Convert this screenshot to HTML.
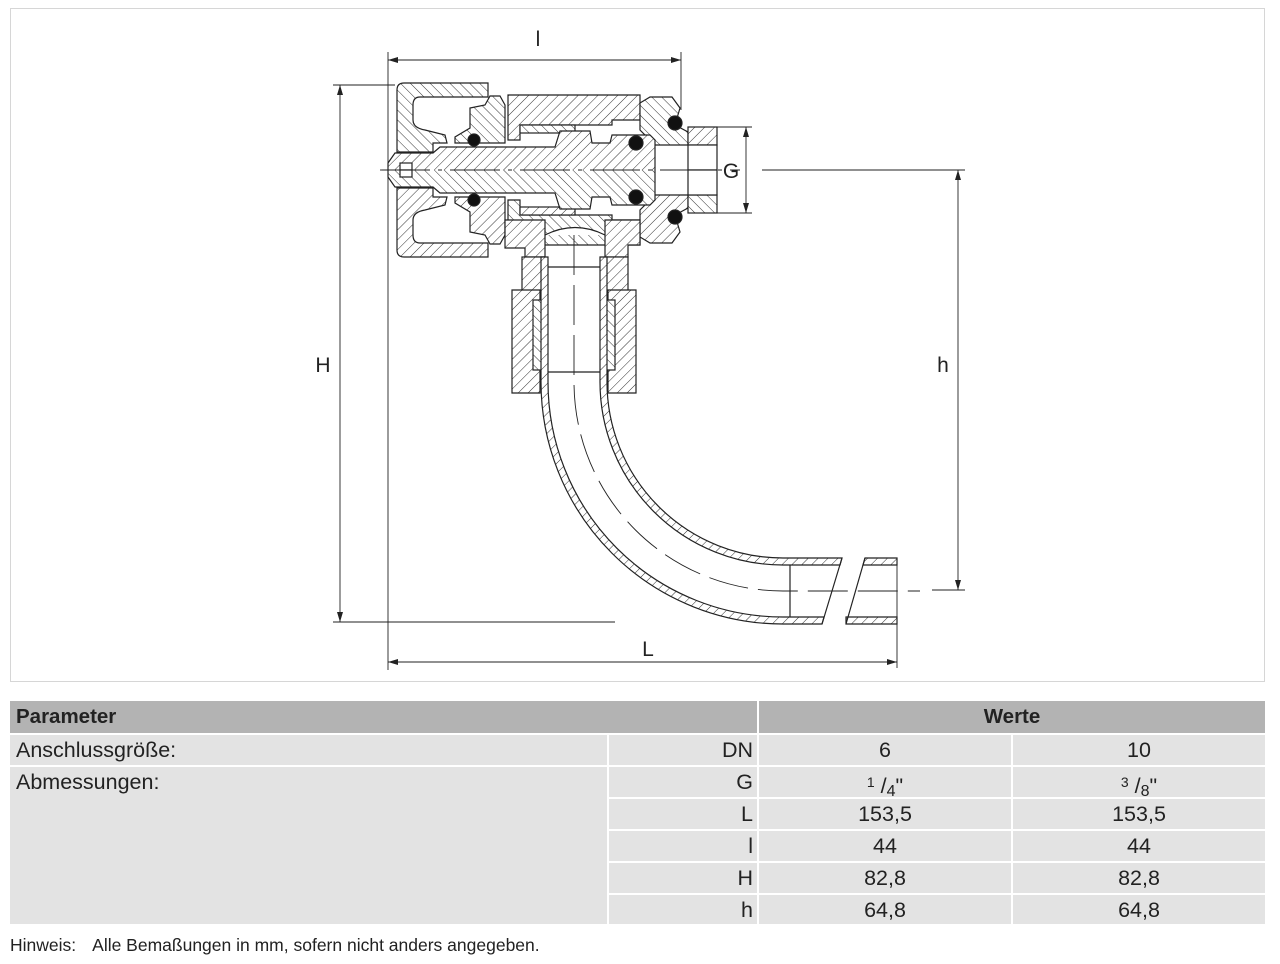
<!DOCTYPE html>
<html><head><meta charset="utf-8"><style>
body{margin:0;width:1280px;height:964px;background:#fff;position:relative;overflow:hidden;font-family:"Liberation Sans",sans-serif;color:#222}
.c{position:absolute;background:#e3e3e3;font-size:21.5px;line-height:30px;box-sizing:border-box}
.h{background:#b3b3b3;font-weight:bold;line-height:32px;font-size:20.5px}
.r{text-align:right;padding-right:4px}
.m{text-align:center}
.l{padding-left:6px}
sup{font-size:14px;vertical-align:6px}
sub{font-size:16px;vertical-align:-3px}
</style></head><body>
<div style="position:absolute;left:10px;top:8px;width:1255px;height:674px;border:1px solid #d6d6d6;box-sizing:border-box"></div>
<svg width="1280" height="690" style="position:absolute;left:0;top:0" xmlns="http://www.w3.org/2000/svg">
<defs>
<pattern id="hp" patternUnits="userSpaceOnUse" width="7" height="7" patternTransform="rotate(45)"><rect width="7" height="7" fill="#fff"/><line x1="0" y1="0" x2="0" y2="7" stroke="#333" stroke-width="1"/></pattern>
<pattern id="hq" patternUnits="userSpaceOnUse" width="7" height="7" patternTransform="rotate(-45)"><rect width="7" height="7" fill="#fff"/><line x1="0" y1="0" x2="0" y2="7" stroke="#333" stroke-width="1"/></pattern>
</defs>
<g stroke="#222" stroke-width="1.2" fill="url(#hp)">
<g id="top">
<path fill="url(#hq)" d="M397,90 Q397,83 404,83 L488,83 L488,97 L420,97 Q413,97 413,105 L413,120 Q413,128 425,130 L445,135 L447,143 L433,143 L433,152 L397,152 Z"/>
<path d="M455,143 L455,137 L470,128 L470,108 L485,105 L490,96 L500,96 L505,105 L505,143 Z" fill="url(#hq)"/>
<path d="M508,95 L640,95 L640,120 L612,120 L612,125 L520,125 L520,140 L508,140 Z"/>
<rect x="520" y="125" width="55" height="8" fill="url(#hq)"/>
<path d="M640,103 L650,97 L672,97 L680,108 L675,125 L688,132 L688,145 L655,145 L640,130 Z" fill="url(#hq)"/>
<rect x="688" y="127" width="29" height="18"/>
<rect x="688" y="145" width="29" height="25" fill="#fff"/>
<path d="M388,163 L395,153 L433,153 L440,147 L555,147 L560,131 L590,131 L592,143 L610,143 L612,135 L650,135 L655,140 L655,170 L388,170 Z" stroke="none"/>
<path d="M388,170 L388,163 L395,153 L433,153 L440,147 L555,147 L560,131 L590,131 L592,143 L610,143 L612,135 L650,135 L655,140 L655,170" fill="none"/>
<circle cx="474" cy="140" r="6" fill="#111"/>
<circle cx="636" cy="143" r="7" fill="#111"/>
<circle cx="675" cy="123" r="7" fill="#111"/>
<rect x="400" y="163" width="12" height="7" fill="#fff"/>
</g>
<use href="#top" transform="translate(0,340) scale(1,-1)"/>
<path d="M505,220 L545,220 L545,257 L525,257 L525,248 L505,248 Z"/>
<path d="M605,220 L640,220 L640,245 L628,245 L628,257 L605,257 Z"/>
<path d="M545,235 Q575,220 605,235" fill="#fff"/>
<rect x="522" y="257" width="23" height="50"/>
<rect x="605" y="257" width="23" height="50"/>
<path d="M512,290 L540,290 L540,393 L512,393 Z"/>
<path d="M608,290 L636,290 L636,393 L608,393 Z"/>
<rect x="533" y="300" width="12" height="70" fill="url(#hq)"/>
<rect x="603" y="300" width="12" height="70" fill="url(#hq)"/>
<path d="M541,257 L541,382 A242,242 0 0 0 783,624 L822,624 L824,617 L783,617 A235,235 0 0 1 548,382 L548,257 Z"/>
<path d="M607,257 L607,382 A176,176 0 0 0 783,558 L842,558 L840,565 L783,565 A183,183 0 0 1 600,382 L600,257 Z"/>
<path d="M842,558 L822,624" fill="none"/>
<path d="M865,558 L897,558 L897,565 L863,565 Z"/>
<path d="M846,617 L897,617 L897,624 L846,624 Z"/>
<path d="M865,558 L846,624" fill="none"/>
<line x1="790" y1="565" x2="790" y2="617"/>
<line x1="548" y1="267" x2="600" y2="267"/>
<line x1="548" y1="372" x2="600" y2="372"/>
</g>
<g stroke="#222" stroke-width="0.9" fill="none">
<line x1="380" y1="170" x2="740" y2="170" stroke-dasharray="50,8,4,8"/>
<path d="M574,235 L574,382 A209,209 0 0 0 783,591 L920,591" stroke-dasharray="40,10"/>
<line x1="388" y1="52" x2="388" y2="670"/>
<line x1="681" y1="52" x2="681" y2="110"/>
<line x1="388" y1="60" x2="681" y2="60"/>
<line x1="340" y1="85" x2="340" y2="622"/>
<line x1="333" y1="85" x2="395" y2="85"/>
<line x1="333" y1="622" x2="615" y2="622"/>
<line x1="958" y1="170" x2="958" y2="590"/>
<line x1="762" y1="170" x2="965" y2="170"/>
<line x1="932" y1="590" x2="965" y2="590"/>
<line x1="388" y1="662" x2="897" y2="662"/>
<line x1="897" y1="560" x2="897" y2="668"/>
<line x1="746" y1="127" x2="746" y2="213"/>
<line x1="715" y1="127" x2="752" y2="127"/>
<line x1="715" y1="213" x2="752" y2="213"/>
</g>
<g fill="#222">
<path d="M388,60 l10,-3 v6z M681,60 l-10,-3 v6z"/>
<path d="M340,85 l-3,10 h6z M340,622 l-3,-10 h6z"/>
<path d="M958,170 l-3,10 h6z M958,590 l-3,-10 h6z"/>
<path d="M388,662 l10,-3 v6z M897,662 l-10,-3 v6z"/>
<path d="M746,127 l-3,10 h6z M746,213 l-3,-10 h6z"/>
</g>
<g font-family="Liberation Sans" font-size="21" fill="#222" text-anchor="middle">
<text x="538" y="46">l</text>
<text x="323" y="372">H</text>
<text x="943" y="372">h</text>
<text x="648" y="656">L</text>
<text x="731" y="178">G</text>
</g>
</svg>
<div class="c h l" style="left:10px;top:701px;width:747px;height:32px">Parameter</div>
<div class="c h m" style="left:759px;top:701px;width:506px;height:32px">Werte</div>
<div class="c l" style="left:10px;top:735px;width:597px;height:30px">Anschlussgröße:</div>
<div class="c l" style="left:10px;top:767px;width:597px;height:157px">Abmessungen:</div>
<div class="c r" style="left:609px;top:735px;width:148px;height:30px">DN</div>
<div class="c m" style="left:759px;top:735px;width:252px;height:30px">6</div>
<div class="c m" style="left:1013px;top:735px;width:252px;height:30px">10</div>
<div class="c r" style="left:609px;top:767px;width:148px;height:30px">G</div>
<div class="c m" style="left:759px;top:767px;width:252px;height:30px"><sup>1</sup> /<sub>4</sub>"</div>
<div class="c m" style="left:1013px;top:767px;width:252px;height:30px"><sup>3</sup> /<sub>8</sub>"</div>
<div class="c r" style="left:609px;top:799px;width:148px;height:30px">L</div>
<div class="c m" style="left:759px;top:799px;width:252px;height:30px">153,5</div>
<div class="c m" style="left:1013px;top:799px;width:252px;height:30px">153,5</div>
<div class="c r" style="left:609px;top:831px;width:148px;height:30px">l</div>
<div class="c m" style="left:759px;top:831px;width:252px;height:30px">44</div>
<div class="c m" style="left:1013px;top:831px;width:252px;height:30px">44</div>
<div class="c r" style="left:609px;top:863px;width:148px;height:30px">H</div>
<div class="c m" style="left:759px;top:863px;width:252px;height:30px">82,8</div>
<div class="c m" style="left:1013px;top:863px;width:252px;height:30px">82,8</div>
<div class="c r" style="left:609px;top:895px;width:148px;height:29px">h</div>
<div class="c m" style="left:759px;top:895px;width:252px;height:29px">64,8</div>
<div class="c m" style="left:1013px;top:895px;width:252px;height:29px">64,8</div>
<div style="position:absolute;left:10px;top:934px;font-size:17.5px;line-height:22px">Hinweis:<span style="display:inline-block;width:16px"></span>Alle Bemaßungen in mm, sofern nicht anders angegeben.</div>
</body></html>
